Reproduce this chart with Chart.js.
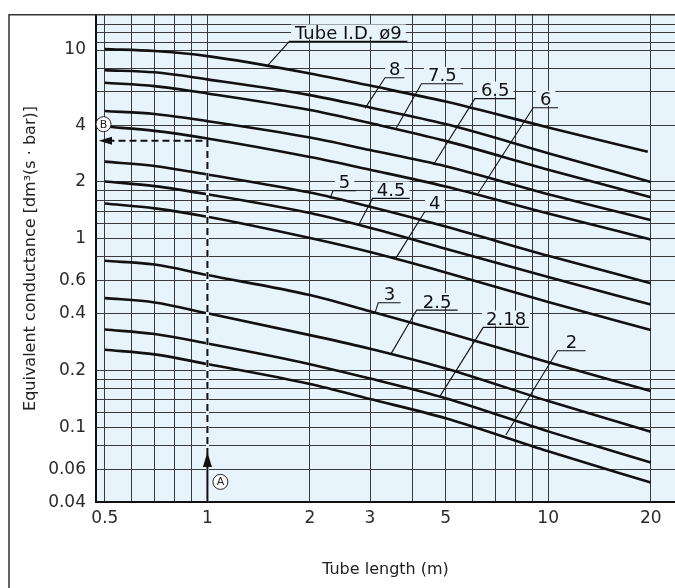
<!DOCTYPE html>
<html><head><meta charset="utf-8">
<script src="https://cdn.jsdelivr.net/npm/chart.js@4"></script>
<style>html,body{margin:0;padding:0;background:#fff}canvas{display:block}</style>
</head><body>
<canvas id="c" width="675" height="588"></canvas>
<script>
// ---- data ----
const tubeLengths  = [0.5, 0.7, 1, 2, 3, 5, 10, 20];
const tubeLengths9 = [0.5, 0.7, 1, 2, 3, 5, 10, 19.6];
const tubeIDs = ['9', '8', '7.5', '6.5', '6', '5', '4.5', '4', '3', '2.5', '2.18', '2'];
const conductance9   = [10.12, 9.88, 9.29, 7.52, 6.48, 5.33, 3.89, 2.89];
const conductance8   = [7.83, 7.62, 6.99, 5.77, 4.96, 4.05, 2.84, 2.00];
const conductance7_5 = [6.71, 6.44, 5.89, 4.81, 4.10, 3.30, 2.32, 1.66];
const conductance6_5 = [4.75, 4.58, 4.20, 3.44, 2.95, 2.42, 1.72, 1.255];
const conductance6   = [3.93, 3.73, 3.40, 2.71, 2.32, 1.89, 1.36, 0.99];
const conductance5   = [2.56, 2.43, 2.19, 1.755, 1.476, 1.159, 0.811, 0.581];
const conductance4_5 = [2.01, 1.90, 1.72, 1.367, 1.142, 0.885, 0.626, 0.447];
const conductance4   = [1.535, 1.448, 1.306, 1.007, 0.849, 0.662, 0.461, 0.328];
const conductance3   = [0.763, 0.729, 0.641, 0.502, 0.412, 0.3185, 0.221, 0.1556];
const conductance2_5 = [0.484, 0.459, 0.402, 0.308, 0.261, 0.205, 0.1377, 0.0946];
const conductance2_18= [0.330, 0.312, 0.278, 0.216, 0.1812, 0.1425, 0.0951, 0.065];
const conductance2   = [0.2576, 0.2434, 0.2163, 0.1695, 0.1411, 0.1116, 0.0745, 0.0509];

const xGridValues = [0.5, 0.6, 0.7, 0.8, 0.9, 1, 2, 3, 4, 5, 6, 7, 8, 9, 10, 20];
const xTickLabels = ['0.5', '1', '2', '3', '5', '10', '20'];
const yGridValues = [0.04, 0.06, 0.08, 0.1, 0.12, 0.14, 0.16, 0.18, 0.2, 0.4, 0.6, 0.8,
                     1, 1.2, 1.4, 1.6, 1.8, 2, 4, 6, 8, 10, 11, 12.4, 13.7];
const yTickLabels = ['0.04', '0.06', '0.1', '0.2', '0.4', '0.6', '1', '2', '4', '10'];

// example reading (A -> B)
const readingLength = 1;
const readingConductance = 3.3;
const arrowTipConductance = 0.074;

// ---- build datasets ----
const seriesValues = [conductance9, conductance8, conductance7_5, conductance6_5, conductance6,
  conductance5, conductance4_5, conductance4, conductance3, conductance2_5, conductance2_18, conductance2];
const datasets = tubeIDs.map((id, i) => {
  const xs = i === 0 ? tubeLengths9 : tubeLengths;
  return {
    label: 'Tube I.D. ' + id,
    data: seriesValues[i].map((v, j) => ({x: xs[j], y: v})),
    borderColor: '#111', borderWidth: 2.6, pointRadius: 0, fill: false,
    cubicInterpolationMode: 'monotone'
  };
});

// ---- annotation styling (label offsets in px relative to leader end on the curve) ----
const curveLabels = [
  {text: 'Tube I.D. ø9', x: 1.49, y: 8.15,  dx: 23,  dy: -25.4, w: 118},
  {text: '8',    x: 2.90, y: 4.91,  dx: 20,  dy: -30.6, w: 19.4},
  {text: '7.5',  x: 3.57, y: 3.81,  dx: 25.7,dy: -45.3, w: 41.7},
  {text: '6.5',  x: 4.60, y: 2.46,  dx: 41.6,dy: -66.3, w: 40.7},
  {text: '6',    x: 6.23, y: 1.74,  dx: 55,  dy: -85.6, w: 25},
  {text: '5',    x: 2.29, y: 1.636, dx: 3,   dy: -7.6,  w: 23},
  {text: '4.5',  x: 2.77, y: 1.17,  dx: 14.3,dy: -27.4, w: 37.3},
  {text: '4',    x: 3.57, y: 0.786, dx: 29,  dy: -46.6, w: 20},
  {text: '3',    x: 3.10, y: 0.402, dx: 3.4, dy: -10.6, w: 22.3},
  {text: '2.5',  x: 3.45, y: 0.2434,dx: 26,  dy: -44.3, w: 41},
  {text: '2.18', x: 4.79, y: 0.144, dx: 44,  dy: -70,   w: 45.6},
  {text: '2',    x: 7.51, y: 0.0909,dx: 51.7,dy: -84.3, w: 28}
];

const PLOT_BG = '#e8f4fc';
const FONT = "'DejaVu Sans', sans-serif";

const bgPlugin = {
  id: 'bg',
  beforeDraw(chart) {
    const {ctx, chartArea: ca} = chart;
    ctx.save();
    ctx.fillStyle = '#fff';
    ctx.fillRect(0, 0, chart.width, chart.height);
    ctx.fillStyle = PLOT_BG;
    ctx.fillRect(ca.left, ca.top, ca.right - ca.left, ca.bottom - ca.top);
    ctx.restore();
  },
  beforeDatasetsDraw(chart) {
    const {ctx, scales: {x, y}} = chart;
    ctx.save();
    ctx.font = '18px ' + FONT;
    curveLabels.forEach(l => {
      const px = x.getPixelForValue(l.x), py = y.getPixelForValue(l.y);
      const sx = px + l.dx, sy = py + l.dy;
      const cx = sx + l.w / 2;
      const tw = ctx.measureText(l.text).width;
      ctx.fillStyle = PLOT_BG;
      ctx.fillRect(cx - tw / 2 - 4, sy - 17, tw + 8, 15);
      ctx.strokeStyle = '#111';
      ctx.lineWidth = 1.1;
      ctx.beginPath();
      ctx.moveTo(px, py); ctx.lineTo(sx, sy); ctx.lineTo(sx + l.w, sy);
      ctx.stroke();
      ctx.fillStyle = '#111';
      ctx.textAlign = 'center';
      ctx.textBaseline = 'alphabetic';
      ctx.fillText(l.text, cx, sy - 2.5);
    });
    ctx.restore();
  },
  afterDatasetsDraw(chart) {
    const {ctx, chartArea: ca, scales: {x, y}} = chart;
    const bx = x.getPixelForValue(readingLength);
    const by = y.getPixelForValue(readingConductance);
    const tipY = y.getPixelForValue(arrowTipConductance);
    ctx.save();
    ctx.strokeStyle = PLOT_BG; ctx.lineWidth = 3;
    ctx.beginPath(); ctx.moveTo(bx, by); ctx.lineTo(bx, ca.bottom - 1); ctx.stroke();
    ctx.strokeStyle = '#111'; ctx.lineWidth = 2;
    ctx.setLineDash([7, 4]);
    ctx.beginPath();
    ctx.moveTo(bx, tipY + 14); ctx.lineTo(bx, by); ctx.lineTo(ca.left + 13, by);
    ctx.stroke();
    ctx.setLineDash([]);
    ctx.beginPath(); ctx.moveTo(bx, tipY + 14); ctx.lineTo(bx, ca.bottom); ctx.stroke();
    ctx.fillStyle = '#111';
    ctx.beginPath();
    ctx.moveTo(bx, tipY); ctx.lineTo(bx - 4.5, tipY + 15); ctx.lineTo(bx + 4.5, tipY + 15); ctx.closePath(); ctx.fill();
    ctx.beginPath();
    ctx.moveTo(ca.left + 2.7, by); ctx.lineTo(ca.left + 16, by - 4); ctx.lineTo(ca.left + 16, by + 4); ctx.closePath(); ctx.fill();
    ctx.restore();
  },
  afterDraw(chart) {
    const {ctx, chartArea: ca, scales: {x, y}} = chart;
    const bx = x.getPixelForValue(readingLength);
    const by = y.getPixelForValue(readingConductance);
    const tipY = y.getPixelForValue(arrowTipConductance);
    ctx.save();
    ctx.strokeStyle = '#333'; ctx.lineWidth = 1.5;
    ctx.beginPath();
    ctx.moveTo(9, chart.height); ctx.lineTo(9, ca.top); ctx.lineTo(chart.width, ca.top);
    ctx.stroke();
    const circ = (cx, cy, t) => {
      ctx.beginPath(); ctx.arc(cx, cy, 7.5, 0, Math.PI * 2);
      ctx.fillStyle = '#fff'; ctx.fill();
      ctx.strokeStyle = '#222'; ctx.lineWidth = 1; ctx.stroke();
      ctx.fillStyle = '#222'; ctx.font = '11px ' + FONT;
      ctx.textAlign = 'center'; ctx.textBaseline = 'middle';
      ctx.fillText(t, cx, cy + 0.5);
    };
    circ(ca.left + 7.5, by - 16.7, 'B');
    circ(bx + 13, tipY + 30, 'A');
    ctx.restore();
  }
};

new Chart(document.getElementById('c'), {
  type: 'line',
  data: {datasets},
  options: {
    responsive: false,
    animation: false,
    layout: {padding: {top: 14.7, left: 0, right: 0, bottom: 0}},
    plugins: {legend: {display: false}, tooltip: {enabled: false}},
    scales: {
      x: {
        type: 'logarithmic', min: 0.471, max: 23.56,
        afterBuildTicks: s => { s.ticks = xGridValues.map(v => ({value: v})); },
        afterFit: s => { s.height = 85.7; s.paddingLeft = 0; s.paddingRight = 0; },
        ticks: {
          autoSkip: false, maxRotation: 0, minRotation: 0, padding: 6,
          color: '#2a2a2a', font: {family: FONT, size: 17},
          callback: v => xTickLabels.includes(String(v)) ? String(v) : ''
        },
        grid: {color: '#3a3a3a', lineWidth: 1, drawTicks: false},
        border: {color: '#111', width: 2},
        title: {display: true, text: 'Tube length (m)', color: '#222',
          font: {family: FONT, size: 16}, padding: {top: 0, bottom: 8.4}}
      },
      y: {
        type: 'logarithmic', min: 0.04, max: 15.4,
        afterBuildTicks: s => { s.ticks = yGridValues.map(v => ({value: v})); },
        afterFit: s => { s.width = 96; s.paddingTop = 0; s.paddingBottom = 0; },
        ticks: {
          autoSkip: false, padding: 10,
          color: '#2a2a2a', font: {family: FONT, size: 17},
          callback: v => yTickLabels.includes(String(v)) ? String(v) : ''
        },
        grid: {color: '#3a3a3a', lineWidth: 1, drawTicks: false},
        border: {color: '#111', width: 2},
        title: {display: true, text: 'Equivalent conductance [dm³(s · bar)]', color: '#222',
          font: {family: FONT, size: 16}, padding: {top: 21.5, bottom: 0}}
      }
    }
  },
  plugins: [bgPlugin]
});
</script>
</body></html>
